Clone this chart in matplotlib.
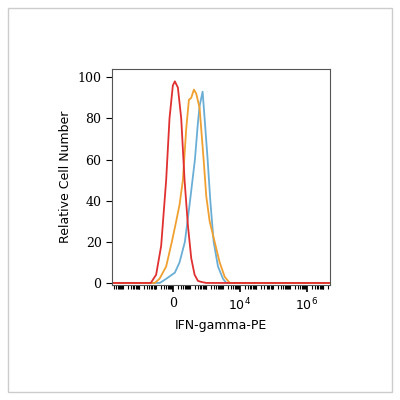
import numpy as np
import matplotlib.pyplot as plt
from matplotlib.patches import Rectangle

# x in display units: 0 = zero, 2 = 10^4, 4 = 10^6 (one decade = 0.5)
red_x = [-1.8, -0.66, -0.5, -0.35, -0.2, -0.1, 0.0, 0.06, 0.15, 0.25, 0.35, 0.45, 0.55, 0.65, 0.75, 0.85, 1.0, 4.7]
red_y = [0, 0, 4, 18, 50, 80, 96, 98, 95, 80, 50, 28, 12, 4, 1, 0.5, 0, 0]

orange_x = [-1.8, -0.54, -0.4, -0.2, -0.03, 0.1, 0.2, 0.3, 0.4, 0.48, 0.55, 0.63, 0.7, 0.8, 0.92, 1.0, 1.1, 1.25, 1.4, 1.55, 1.7, 4.7]
orange_y = [0, 0, 2, 8, 20, 30, 38, 50, 75, 89, 90, 94, 92, 85, 60, 42, 30, 20, 10, 3, 0, 0]

blue_x = [-1.8, -0.39, -0.2, 0.06, 0.2, 0.36, 0.5, 0.66, 0.75, 0.8, 0.89, 0.95, 1.04, 1.12, 1.22, 1.35, 1.5, 1.6, 4.7]
blue_y = [0, 0, 2, 5, 10, 20, 38, 60, 78, 86, 93, 80, 60, 40, 20, 8, 2, 0, 0]

fig = plt.figure(figsize=(4, 4), dpi=100)
fig.patches.append(Rectangle((0.02, 0.02), 0.96, 0.96, transform=fig.transFigure,
                             fill=False, edgecolor='#cccccc', linewidth=1))
ax = fig.add_axes([0.28, 0.2875, 0.545, 0.54])

ax.plot(blue_x, blue_y, color='#6aaed6', lw=1.3)
ax.plot(orange_x, orange_y, color='#f0a030', lw=1.3)
ax.plot(red_x, red_y, color='#e03030', lw=1.3)

ax.set_xlim(-1.82, 4.7)
ax.set_ylim(-1, 104)
ax.set_yticks([0, 20, 40, 60, 80, 100])
ax.set_xticks([0, 2, 4])
ax.set_xticklabels(['0', r'$10^4$', r'$10^6$'])

minor = []
for d in range(-4, 10):
    for k in range(1, 10):
        p = (d + np.log10(k)) * 0.5
        if -1.82 < p < 4.7:
            minor.append(p)
ax.set_xticks(minor, minor=True)
ax.tick_params(axis='x', which='minor', length=3, width=0.8)
ax.tick_params(axis='x', which='major', length=5, width=1.2)
ax.tick_params(axis='y', length=4)
for lab in ax.get_xticklabels() + ax.get_yticklabels():
    lab.set_family('DejaVu Serif')
    lab.set_fontsize(9)

ax.set_xlabel('IFN-gamma-PE', fontsize=9)
ax.set_ylabel('Relative Cell Number', fontsize=9)
for s in ax.spines.values():
    s.set_color('#555555')
    s.set_linewidth(0.8)

fig.savefig('out.png', dpi=100)
